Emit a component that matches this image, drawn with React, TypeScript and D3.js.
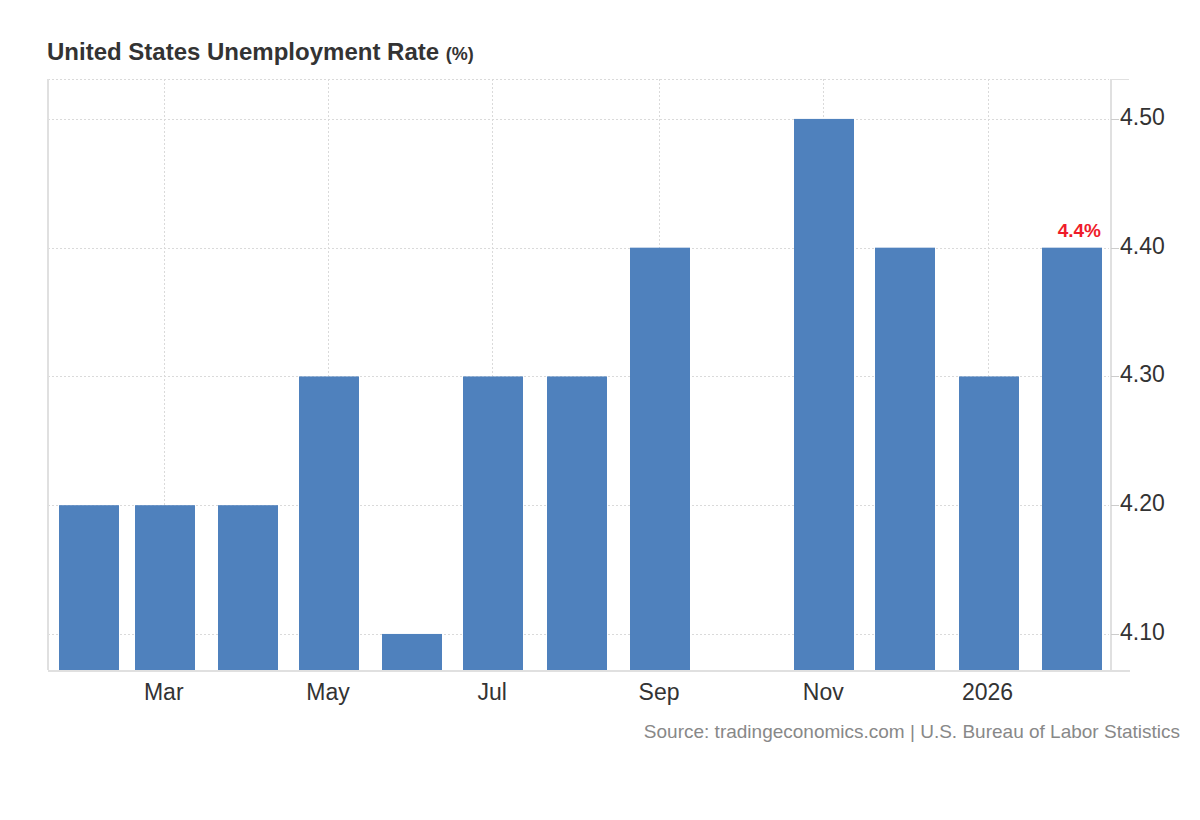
import React, { useEffect, useRef } from "react";
import * as d3 from "d3";

// monthly unemployment rate, Oct 2025 not published
const months = [
  "2025-02-01", "2025-03-01", "2025-04-01", "2025-05-01", "2025-06-01", "2025-07-01",
  "2025-08-01", "2025-09-01", "2025-10-01", "2025-11-01", "2025-12-01", "2026-01-01", "2026-02-01",
];
const rates: (number | null)[] = [4.2, 4.2, 4.2, 4.3, 4.1, 4.3, 4.3, 4.4, null, 4.5, 4.4, 4.3, 4.4];
const yTicks = [4.1, 4.2, 4.3, 4.4, 4.5];
const lastLabel = "4.4%";

const App = () => {
  const chartRef = useRef<SVGSVGElement>(null);

  useEffect(() => {
    const svg = d3.select(chartRef.current);
    svg.selectAll("*").remove();

    const left = 48, right = 1111, top = 79, bottom = 670;
    const font = "'Liberation Sans', Arial, sans-serif";
    const parse = d3.utcParse("%Y-%m-%d");
    const data = months.map((m, i) => ({ date: parse(m) as Date, value: rates[i] }));

    const x = d3
      .scaleUtc()
      .domain([new Date(Date.UTC(2025, 0, 17)), new Date(Date.UTC(2026, 1, 15, 21))])
      .range([left, right]);
    const y = d3.scaleLinear().domain([4.072, 4.531]).range([bottom, top]);
    const xTicks = x.ticks(d3.utcMonth.every(2) as any);
    const fmtX = (d: Date) => (d.getUTCMonth() === 0 ? d3.utcFormat("%Y")(d) : d3.utcFormat("%b")(d));

    // title
    const title = svg.append("text").attr("x", 47).attr("y", 60).attr("font-family", font).attr("fill", "#333").attr("font-weight", "bold");
    title.append("tspan").attr("font-size", 24).text("United States Unemployment Rate ");
    title.append("tspan").attr("font-size", 18).text("(%)");

    // grid
    const grid = svg.append("g").attr("stroke", "#dadada").attr("stroke-dasharray", "2,2").attr("stroke-width", 1);
    grid.selectAll(".hg").data([...yTicks, y.domain()[1]]).enter().append("line")
      .attr("x1", left).attr("x2", right - 2)
      .attr("y1", (d) => Math.round(y(d)) + 0.5).attr("y2", (d) => Math.round(y(d)) + 0.5);
    grid.selectAll(".vg").data(xTicks).enter().append("line")
      .attr("x1", (d) => Math.round(x(d)) + 0.5).attr("x2", (d) => Math.round(x(d)) + 0.5)
      .attr("y1", top).attr("y2", bottom);

    // bars
    const bw = 60;
    svg.append("g").selectAll("rect").data(data.filter((d) => d.value !== null)).enter().append("rect")
      .attr("x", (d) => Math.round(x(d.date) - bw / 2) + 1)
      .attr("y", (d) => y(d.value as number))
      .attr("width", bw)
      .attr("height", (d) => bottom - y(d.value as number))
      .attr("fill", "#4f81bd");

    // axis lines
    svg.append("line").attr("x1", left).attr("x2", left).attr("y1", top).attr("y2", bottom).attr("stroke", "#e0e0e0").attr("stroke-width", 2);
    svg.append("line").attr("x1", right).attr("x2", right).attr("y1", top).attr("y2", bottom).attr("stroke", "#e0e0e0").attr("stroke-width", 2);
    svg.append("line").attr("x1", left).attr("x2", 1130).attr("y1", bottom + 1).attr("y2", bottom + 1).attr("stroke", "#e0e0e0").attr("stroke-width", 2);
    svg.append("line").attr("x1", right).attr("x2", 1129).attr("y1", top + 0.5).attr("y2", top + 0.5).attr("stroke", "#e0e0e0");

    // y axis on right
    const ya = svg.append("g");
    ya.selectAll("line").data(yTicks).enter().append("line")
      .attr("x1", right).attr("x2", right + 8)
      .attr("y1", (d) => Math.round(y(d)) + 0.5).attr("y2", (d) => Math.round(y(d)) + 0.5)
      .attr("stroke", "#ccc");
    ya.selectAll("text").data(yTicks).enter().append("text")
      .attr("x", 1120).attr("y", (d) => y(d) + 6)
      .attr("font-family", font).attr("font-size", 23).attr("fill", "#333")
      .text((d) => d3.format(".2f")(d));

    // x labels
    svg.append("g").selectAll("text").data(xTicks).enter().append("text")
      .attr("x", (d) => x(d)).attr("y", 700).attr("text-anchor", "middle")
      .attr("font-family", font).attr("font-size", 23).attr("fill", "#333")
      .text(fmtX);

    // last value label
    const last = data[data.length - 1];
    svg.append("text")
      .attr("x", x(last.date) + bw / 2).attr("y", y(last.value as number) - 11)
      .attr("text-anchor", "end").attr("font-family", font).attr("font-size", 19)
      .attr("font-weight", "bold").attr("fill", "#ef1c2a")
      .text(lastLabel);

    // source
    svg.append("text").attr("x", 1180).attr("y", 738).attr("text-anchor", "end")
      .attr("font-family", font).attr("font-size", 19).attr("fill", "#888")
      .text("Source: tradingeconomics.com | U.S. Bureau of Labor Statistics");
  }, []);

  return <svg ref={chartRef} width={1200} height={820} style={{ position: "absolute", left: 0, top: 0, background: "#fff" }}></svg>;
};

export default App;
